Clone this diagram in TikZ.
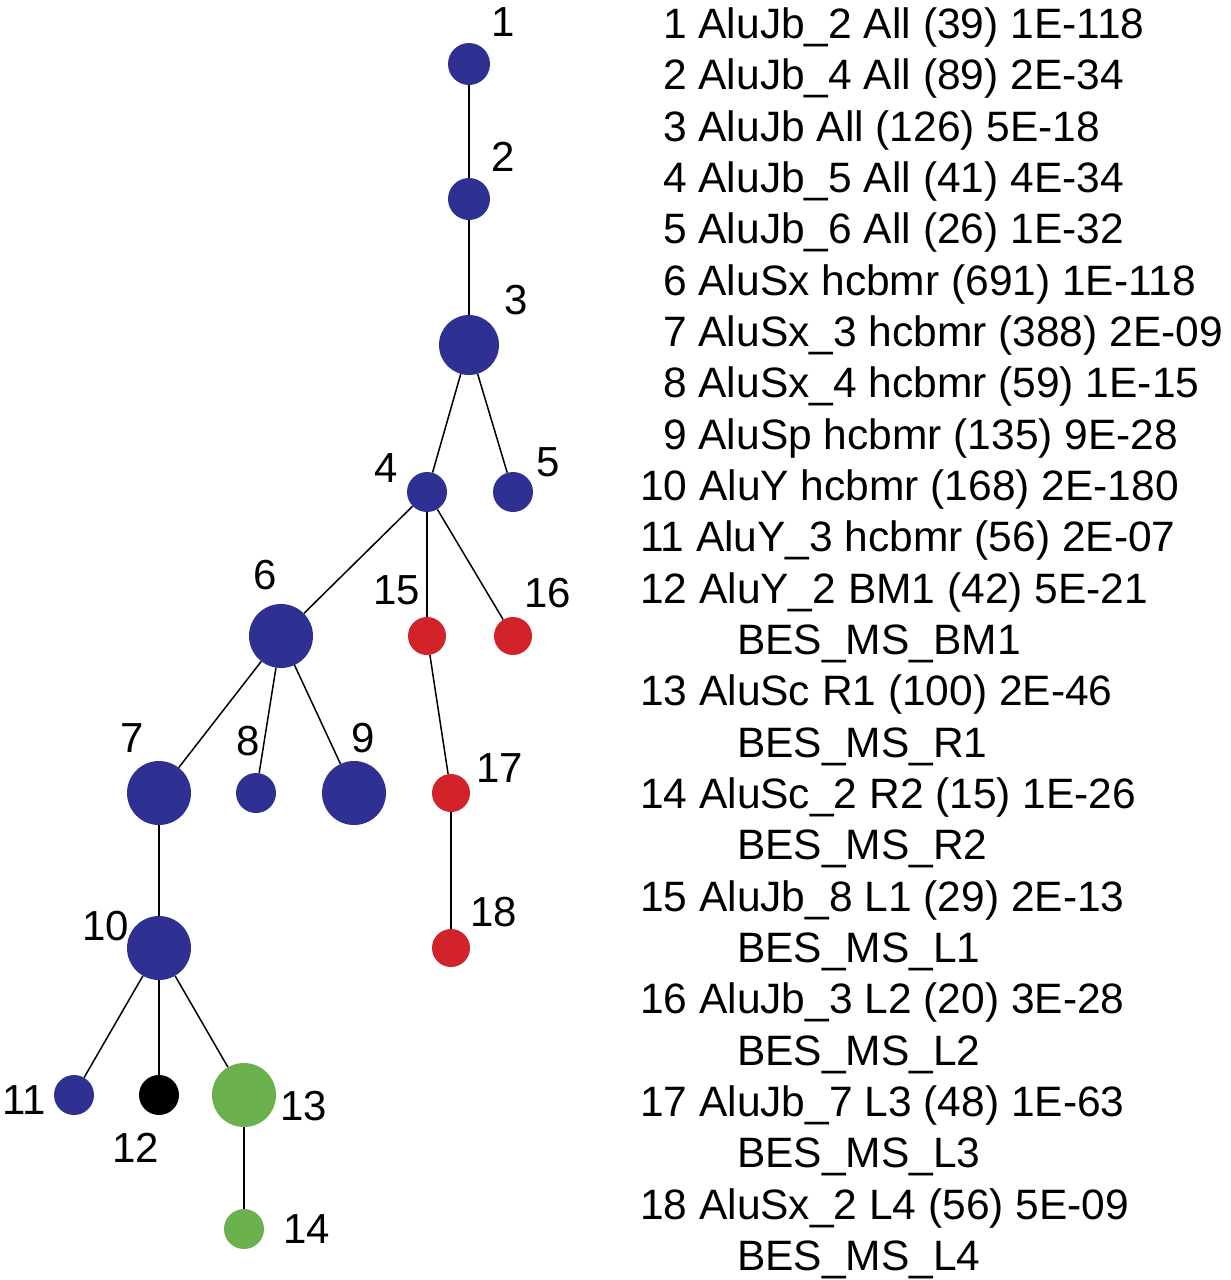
\documentclass[tikz,border=0pt]{standalone}
\usepackage{fontspec}
\setmainfont{Liberation Sans}
\begin{document}
\begin{tikzpicture}[x=1pt,y=-1pt,
  nd/.style={circle,inner sep=0pt,minimum size=#1},
  lab/.style={font=\fontsize{42}{44}\selectfont},
  txt/.style={font=\fontsize{42.5}{44}\selectfont,anchor=base west,inner sep=0pt}]
\definecolor{bl}{RGB}{46,49,146}
\definecolor{rd}{RGB}{210,35,42}
\definecolor{gr}{RGB}{106,176,76}
\useasboundingbox (0,0) rectangle (1231,1280);
\foreach \n/\x/\y/\r/\c in {1/469/64/42/bl,2/469/199/42/bl,3/469/345/60/bl,4/427/492/40/bl,5/513/492/40/bl,
 6/281/636/64/bl,15/427/636/38/rd,16/513/636/38/rd,7/159/793/64/bl,8/256/793/40/bl,9/354/793/64/bl,
 17/451/793/38/rd,10/159/948/64/bl,18/451/948/38/rd,11/74/1095/40/bl,12/159/1095/40/black,13/244/1095/64/gr,14/244/1229/40/gr}
  \node[nd=\r,fill=\c] (n\n) at (\x,\y) {};
\foreach \a/\b in {1/2,2/3,3/4,3/5,4/6,4/15,4/16,15/17,17/18,6/7,6/8,6/9,7/10,10/11,10/12,10/13,13/14}
  \draw[line width=1.5pt] (n\a) -- (n\b);
\foreach \n/\x/\y in {1/503/22,2/503/157,3/516/300,4/386/468,5/548/462,6/265/575,15/397/590,16/548/593,
 7/132/738,8/248/741,9/363/738,17/500/768,10/106/926,18/494/912,11/24/1100,12/136/1148,13/304/1106,14/307/1229}
  \node[lab] (l\n) at (\x,\y) {\n};
\node[txt] (t1) at (663,38) {1 AluJb\_2 All (39) 1E-118};
\node[txt] (t2) at (663,89) {2 AluJb\_4 All (89) 2E-34};
\node[txt] (t3) at (663,141) {3 AluJb All (126) 5E-18};
\node[txt] (t4) at (663,192) {4 AluJb\_5 All (41) 4E-34};
\node[txt] (t5) at (663,243) {5 AluJb\_6 All (26) 1E-32};
\node[txt] (t6) at (663,295) {6 AluSx hcbmr (691) 1E-118};
\node[txt] (t7) at (663,346) {7 AluSx\_3 hcbmr (388) 2E-09};
\node[txt] (t8) at (663,397) {8 AluSx\_4 hcbmr (59) 1E-15};
\node[txt] (t9) at (663,449) {9 AluSp hcbmr (135) 9E-28};
\node[txt] (t10) at (640,500) {10 AluY hcbmr (168) 2E-180};
\node[txt] (t11) at (640,551) {11 AluY\_3 hcbmr (56) 2E-07};
\node[txt] (t12) at (640,603) {12 AluY\_2 BM1 (42) 5E-21};
\node[txt] (b12) at (737,654) {BES\_MS\_BM1};
\node[txt] (t13) at (640,705) {13 AluSc R1 (100) 2E-46};
\node[txt] (b13) at (737,757) {BES\_MS\_R1};
\node[txt] (t14) at (640,808) {14 AluSc\_2 R2 (15) 1E-26};
\node[txt] (b14) at (737,859) {BES\_MS\_R2};
\node[txt] (t15) at (640,911) {15 AluJb\_8 L1 (29) 2E-13};
\node[txt] (b15) at (737,962) {BES\_MS\_L1};
\node[txt] (t16) at (640,1013) {16 AluJb\_3 L2 (20) 3E-28};
\node[txt] (b16) at (737,1065) {BES\_MS\_L2};
\node[txt] (t17) at (640,1116) {17 AluJb\_7 L3 (48) 1E-63};
\node[txt] (b17) at (737,1167) {BES\_MS\_L3};
\node[txt] (t18) at (640,1219) {18 AluSx\_2 L4 (56) 5E-09};
\node[txt] (b18) at (737,1270) {BES\_MS\_L4};
\end{tikzpicture}
\end{document}
